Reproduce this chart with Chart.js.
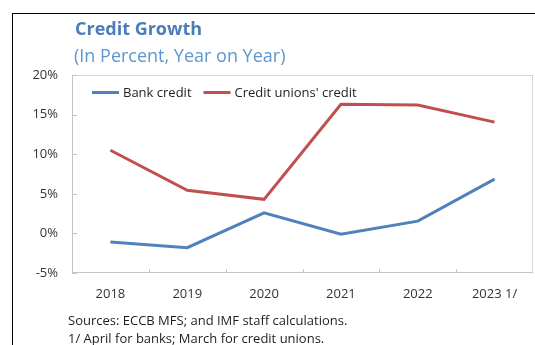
<!DOCTYPE html>
<html>
<head>
<meta charset="utf-8">
<script src="https://cdn.jsdelivr.net/npm/chart.js@4.4.0/dist/chart.umd.min.js"></script>
<style>
  html, body { margin: 0; padding: 0; background: #fff; }
  #wrap { position: relative; width: 535px; height: 345px; overflow: hidden; }
  #frame { position: absolute; left: 12px; top: 13px; width: 600px; height: 400px; border: 1px solid #000; }
  #chart { position: absolute; left: 0; top: 0; }
</style>
</head>
<body>
<div id="wrap">
  <div id="frame"></div>
  <canvas id="chart" width="535" height="345"></canvas>
</div>
<script>
const years = ['2018', '2019', '2020', '2021', '2022', '2023 1/'];
const bankCredit = [-1.1, -1.8, 2.6, -0.1, 1.55, 6.85];
const creditUnions = [10.5, 5.45, 4.3, 16.3, 16.2, 14.05];
const yMin = -5;
const yMax = 20;
const yStep = 5;

const titleText = 'Credit Growth';
const subtitleText = '(In Percent, Year on Year)';
const notes = [
  'Sources: ECCB MFS; and IMF staff calculations.',
  '1/ April for banks; March for credit unions.'
];

const FONT = "'Open Sans', 'Segoe UI', sans-serif";
const BLUE = '#4f81bd';
const RED = '#c0504d';

// light box round the plot, with short inward tick marks
const plotBox = {
  id: 'plotBox',
  beforeDatasetsDraw(chart) {
    const { ctx, chartArea: a, scales: { x, y } } = chart;
    ctx.save();
    ctx.lineWidth = 1;
    ctx.strokeStyle = '#d6d6d6';
    ctx.strokeRect(a.left + 0.5, a.top + 0.5, a.right - a.left - 1, a.bottom - a.top - 1);

    ctx.strokeStyle = '#c4c4c4';
    ctx.beginPath();
    ctx.moveTo(a.left + 0.5, a.top);
    ctx.lineTo(a.left + 0.5, a.bottom);
    ctx.moveTo(a.left, a.bottom - 0.5);
    ctx.lineTo(a.right, a.bottom - 0.5);
    y.ticks.forEach(t => {
      const py = Math.round(y.getPixelForValue(t.value)) + 0.5;
      ctx.moveTo(a.left, py);
      ctx.lineTo(a.left + 5, py);
    });
    for (let i = 1; i < years.length; i++) {
      const px = Math.round((x.getPixelForValue(i - 1) + x.getPixelForValue(i)) / 2) + 0.5;
      ctx.moveTo(px, a.bottom);
      ctx.lineTo(px, a.bottom - 4);
    }
    ctx.stroke();
    ctx.restore();
  }
};

// legend sits inside the plot, top left
const innerLegend = {
  id: 'innerLegend',
  afterDatasetsDraw(chart) {
    const { ctx, chartArea: a } = chart;
    let lx = a.left + 20;
    const ly = a.top + 17.5;
    ctx.save();
    ctx.font = '13px ' + FONT;
    ctx.textBaseline = 'middle';
    chart.data.datasets.forEach(ds => {
      ctx.strokeStyle = ds.borderColor;
      ctx.lineWidth = 3;
      ctx.beginPath();
      ctx.moveTo(lx, ly);
      ctx.lineTo(lx + 27, ly);
      ctx.stroke();
      ctx.fillStyle = '#222';
      ctx.fillText(ds.label, lx + 31, ly + 0.5);
      lx += 31 + ctx.measureText(ds.label).width + 12;
    });
    ctx.restore();
  }
};

// heading above the plot and source notes below
const captions = {
  id: 'captions',
  afterDraw(chart) {
    const ctx = chart.ctx;
    ctx.save();
    ctx.textBaseline = 'alphabetic';
    ctx.font = 'bold 18px ' + FONT;
    ctx.fillStyle = '#4a7db9';
    ctx.fillText(titleText, 75, 35);
    ctx.font = '18px ' + FONT;
    ctx.fillStyle = '#5b97d1';
    ctx.fillText(subtitleText, 74, 61.5);
    ctx.font = '13px ' + FONT;
    ctx.fillStyle = '#1e1e1e';
    ctx.textBaseline = 'middle';
    notes.forEach((line, i) => ctx.fillText(line, 68, 321 + i * 18.6));
    ctx.restore();
  }
};

new Chart(document.getElementById('chart'), {
  type: 'line',
  data: {
    labels: years,
    datasets: [
      { label: 'Bank credit', data: bankCredit, borderColor: BLUE },
      { label: "Credit unions' credit", data: creditUnions, borderColor: RED }
    ]
  },
  options: {
    responsive: false,
    animation: false,
    devicePixelRatio: 1,
    layout: { padding: { top: 75, right: 2, bottom: 0, left: 0 } },
    elements: {
      line: { borderWidth: 3, tension: 0, fill: false },
      point: { radius: 0, hoverRadius: 0 }
    },
    plugins: {
      legend: { display: false },
      tooltip: { enabled: false }
    },
    scales: {
      x: {
        offset: true,
        grid: { display: false, drawTicks: false },
        border: { display: false },
        ticks: { color: '#333', padding: 13, maxRotation: 0, autoSkip: false, font: { family: FONT, size: 13 } },
        afterFit: s => { s.height = 72; }
      },
      y: {
        min: yMin,
        max: yMax,
        grid: { display: false, drawTicks: false },
        border: { display: false },
        ticks: {
          stepSize: yStep,
          color: '#333',
          padding: 14,
          font: { family: FONT, size: 13 },
          callback: v => v + '%'
        },
        afterFit: s => { s.width = 72; }
      }
    }
  },
  plugins: [plotBox, innerLegend, captions]
});
</script>
</body>
</html>
